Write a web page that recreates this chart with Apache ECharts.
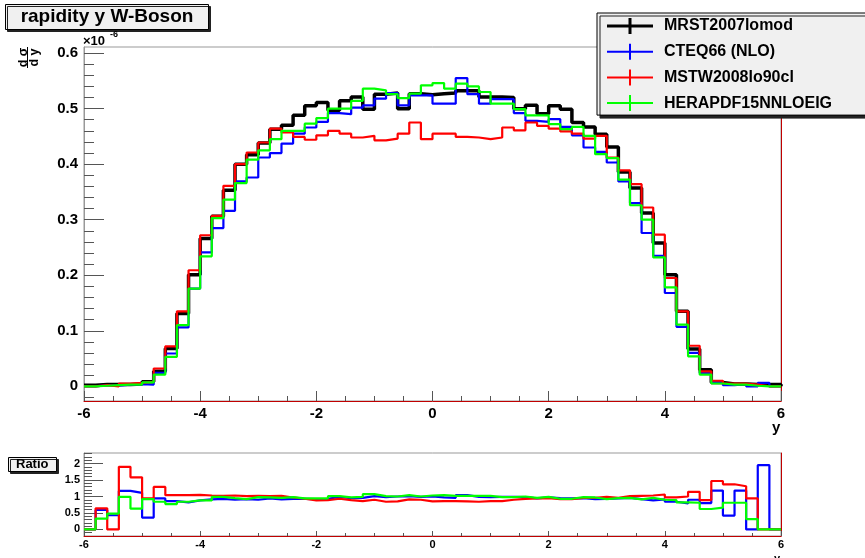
<!DOCTYPE html>
<html>
<head>
<meta charset="utf-8">
<title>rapidity y W-Boson</title>
<script src="https://cdn.jsdelivr.net/npm/echarts@6/dist/echarts.min.js"></script>
<style>
html, body { margin: 0; padding: 0; background: #fff; }
#main { width: 865px; height: 558px; }
</style>
</head>
<body>
<div id="main"></div>
<script>
// 60 bins of width 0.2 between -6 and 6
var xMin = -6, xMax = 6, binWidth = 0.2, nBins = 60;
var binEdges = [];
for (var i = 0; i < nBins; i++) binEdges.push(+(xMin + i * binWidth).toFixed(1));

// d sigma / dy, in units of 1e-6
var mrst = [0.002,0.003,0.003,0.003,0.004,0.008,0.027,0.068,0.131,0.201,
            0.266,0.306,0.353,0.400,0.417,0.438,0.463,0.470,0.488,0.505,
            0.511,0.497,0.514,0.521,0.499,0.526,0.528,0.500,0.527,0.525,
            0.527,0.528,0.532,0.532,0.521,0.521,0.520,0.500,0.506,0.491,
            0.505,0.499,0.475,0.467,0.454,0.431,0.386,0.357,0.312,0.258,
            0.201,0.135,0.067,0.030,0.007,0.004,0.004,0.003,0.003,0.003];
var cteq = [0.000,0.002,0.001,0.003,0.004,0.003,0.024,0.059,0.106,0.176,
            0.241,0.285,0.316,0.369,0.376,0.412,0.420,0.437,0.455,0.466,
            0.476,0.492,0.490,0.502,0.506,0.518,0.528,0.506,0.524,0.524,
            0.509,0.509,0.555,0.526,0.509,0.517,0.517,0.492,0.478,0.476,
            0.481,0.467,0.452,0.430,0.422,0.403,0.369,0.330,0.276,0.235,
            0.168,0.107,0.060,0.024,0.008,0.002,0.004,0.000,0.006,0.000];
var mstw = [0.000,0.002,0.000,0.005,0.006,0.008,0.032,0.072,0.135,0.209,
            0.272,0.307,0.361,0.400,0.421,0.439,0.464,0.457,0.449,0.444,
            0.452,0.460,0.455,0.448,0.451,0.443,0.446,0.455,0.475,0.445,
            0.455,0.455,0.449,0.448,0.445,0.448,0.466,0.461,0.475,0.469,
            0.464,0.459,0.455,0.446,0.451,0.412,0.389,0.364,0.322,0.273,
            0.195,0.135,0.073,0.027,0.010,0.005,0.005,0.003,0.000,0.000];
var hera = [0.000,0.001,0.002,0.003,0.003,0.007,0.021,0.053,0.110,0.176,
            0.234,0.303,0.336,0.366,0.408,0.425,0.445,0.460,0.460,0.473,
            0.483,0.500,0.500,0.514,0.536,0.533,0.526,0.519,0.527,0.542,
            0.546,0.536,0.545,0.540,0.530,0.509,0.509,0.499,0.488,0.488,
            0.472,0.463,0.467,0.451,0.418,0.411,0.372,0.326,0.300,0.232,
            0.178,0.111,0.054,0.021,0.005,0.003,0.003,0.001,0.000,0.000];

// ratio to MRST2007lomod
var cteqRatio = [0,0.59,0.43,1.17,1.11,0.36,0.94,0.86,0.82,0.88,
                 0.91,0.93,0.90,0.92,0.90,0.94,0.91,0.93,0.93,0.92,
                 0.93,0.99,0.95,0.96,1.01,0.98,1.00,1.01,0.99,1.00,
                 0.97,0.96,1.04,0.99,0.98,0.99,0.99,0.98,0.94,0.97,
                 0.95,0.94,0.95,0.92,0.93,0.94,0.96,0.92,0.88,0.91,
                 0.84,0.79,0.90,0.80,1.18,0.42,1.18,0,1.95,0];
var mstwRatio = [0,0.64,0,1.90,1.58,0.94,1.29,1.04,1.04,1.05,
                 1.03,1.02,1.03,1.01,1.02,1.01,1.02,0.97,0.93,0.88,
                 0.89,0.93,0.89,0.86,0.90,0.84,0.85,0.91,0.90,0.85,
                 0.86,0.86,0.85,0.84,0.86,0.86,0.90,0.93,0.94,0.95,
                 0.92,0.92,0.96,0.96,0.99,0.96,1.01,1.02,1.03,1.06,
                 0.97,1.00,1.14,0.89,1.47,1.37,1.31,0.94,0,0];
var heraRatio = [0,0.33,0.48,0.99,0.63,0.92,0.84,0.77,0.84,0.88,
                 0.88,0.99,0.95,0.92,0.98,0.97,0.96,0.98,0.94,0.94,
                 0.945,1.01,0.97,0.99,1.07,1.01,1.00,1.04,1.00,1.03,
                 1.04,1.02,1.02,1.02,1.02,0.98,0.98,1.00,0.96,0.99,
                 0.93,0.93,0.98,0.97,0.92,0.95,0.96,0.91,0.96,0.90,
                 0.89,0.82,0.81,0.62,0.66,0.81,0.81,0.31,0,0];

var yTicks = [0, 0.1, 0.2, 0.3, 0.4, 0.5, 0.6];
var yMinorTicks = [-0.02,0.02,0.04,0.06,0.08,0.12,0.14,0.16,0.18,0.22,0.24,0.26,0.28,
                   0.32,0.34,0.36,0.38,0.42,0.44,0.46,0.48,0.52,0.54,0.56,0.58];
var ratioTicks = [0, 0.5, 1, 1.5, 2];
var ratioMinorTicks = [-0.1,0.1,0.2,0.3,0.4,0.6,0.7,0.8,0.9,1.1,1.2,1.3,1.4,
                       1.6,1.7,1.8,1.9,2.1,2.2,2.3];

var names = ['MRST2007lomod', 'CTEQ66 (NLO)', 'MSTW2008lo90cl', 'HERAPDF15NNLOEIG'];
var colors = ['#000000', '#0000ff', '#ff0000', '#00ff00'];

function steps(vals) {
    var d = binEdges.map(function (x, i) { return [x, vals[i]]; });
    d.push([xMax, 0]);
    return d;
}

var font = 'Liberation Sans';
var frameRed = '#c00000';
var tickColor = '#555';

function histo(name, vals, color, width, axis) {
    return {
        name: name, type: 'line', step: 'end', symbol: 'none',
        xAxisIndex: axis[0], yAxisIndex: axis[1],
        data: steps(vals),
        itemStyle: { color: color },
        lineStyle: { color: color, width: width },
        emphasis: { disabled: true }
    };
}

var crossThick = 'path://M0,6.5 H21.5 V0 H24.5 V6.5 H46 V9.5 H24.5 V16 H21.5 V9.5 H0 Z';
var crossThin = 'path://M0,7 H22 V0 H24 V7 H46 V9 H24 V16 H22 V9 H0 Z';

var myChart = echarts.init(document.getElementById('main'), null, { renderer: 'canvas' });
var option = {
    animation: false,
    backgroundColor: '#fff',
    title: [{
        text: 'Ratio', left: 8, top: 457,
        padding: [1, 8, 1, 8],
        backgroundColor: '#f0f0f0', borderColor: '#000', borderWidth: 1,
        shadowColor: '#222', shadowOffsetX: 2, shadowOffsetY: 2,
        textStyle: { fontFamily: font, fontWeight: 'bold', fontSize: 13, color: '#000' }
    }],
    legend: {
        orient: 'vertical', left: 597, top: 13,
        padding: [5, 300, 4, 10], itemGap: 9.7,
        itemWidth: 46, itemHeight: 16,
        selectedMode: false,
        backgroundColor: '#f0f0f0', borderColor: '#000', borderWidth: 1,
        shadowColor: '#222', shadowOffsetX: 3, shadowOffsetY: 3,
        textStyle: { fontFamily: font, fontWeight: 'bold', fontSize: 16, color: '#000', padding: [0, 0, 0, 6] },
        data: [
            { name: names[0], icon: crossThick },
            { name: names[1], icon: crossThin },
            { name: names[2], icon: crossThin },
            { name: names[3], icon: crossThin }
        ]
    },
    grid: [
        { left: 84, right: 84, top: 47, height: 354, outerBoundsMode: 'none', show: true, borderColor: '#999', borderWidth: 1, backgroundColor: 'transparent' },
        { left: 84, right: 84, top: 453, height: 83, outerBoundsMode: 'none', show: true, borderColor: '#999', borderWidth: 1, backgroundColor: 'transparent' }
    ],
    xAxis: [{
        gridIndex: 0, type: 'value', position: 'bottom', min: xMin, max: xMax, interval: 2,
        name: 'y', nameLocation: 'end', nameGap: -9, nameMoveOverlap: false,
        nameTextStyle: { fontFamily: font, fontWeight: 'bold', fontSize: 15, color: '#000', align: 'left', verticalAlign: 'top', padding: [19, 0, 0, 0] },
        axisLine: { onZero: false, lineStyle: { color: frameRed, width: 1 } },
        axisTick: { inside: true, length: 10, lineStyle: { color: tickColor } },
        minorTick: { show: true, splitNumber: 4, length: 5, lineStyle: { color: tickColor } },
        axisLabel: { margin: 5, fontFamily: font, fontWeight: 'bold', fontSize: 15, color: '#000' },
        splitLine: { show: false }
    }, {
        gridIndex: 1, type: 'value', position: 'bottom', min: xMin, max: xMax, interval: 2,
        name: 'y', nameLocation: 'end', nameGap: -7, nameMoveOverlap: false,
        nameTextStyle: { fontFamily: font, fontWeight: 'bold', fontSize: 11, color: '#000', align: 'left', verticalAlign: 'top', padding: [17, 0, 0, 0] },
        axisLine: { onZero: false, lineStyle: { color: frameRed, width: 1 } },
        axisTick: { inside: true, length: 5, lineStyle: { color: tickColor } },
        minorTick: { show: true, splitNumber: 4, length: 3, lineStyle: { color: tickColor } },
        axisLabel: { margin: 3, fontFamily: font, fontWeight: 'bold', fontSize: 11, color: '#000' },
        splitLine: { show: false }
    }],
    yAxis: [{
        gridIndex: 0, type: 'value', position: 'left', min: -0.0265, max: 0.611,
        axisLine: { show: true, onZero: false, lineStyle: { color: '#999' } },
        axisTick: { inside: true, length: 20, customValues: yTicks, lineStyle: { color: tickColor } },
        axisLabel: { customValues: yTicks, margin: 6, fontFamily: font, fontWeight: 'bold', fontSize: 15, color: '#000' },
        splitLine: { show: false }
    }, {
        gridIndex: 0, type: 'value', position: 'left', min: -0.0265, max: 0.611,
        axisLine: { show: false, onZero: false },
        axisTick: { inside: true, length: 10, customValues: yMinorTicks, lineStyle: { color: tickColor } },
        axisLabel: { show: false },
        splitLine: { show: false }
    }, {
        gridIndex: 0, type: 'value', position: 'right', min: -0.0265, max: 0.611,
        axisLine: { show: true, onZero: false, lineStyle: { color: frameRed } },
        axisTick: { show: false }, axisLabel: { show: false }, splitLine: { show: false }
    }, {
        gridIndex: 1, type: 'value', position: 'left', min: -0.2, max: 2.32,
        axisLine: { show: true, onZero: false, lineStyle: { color: '#999' } },
        axisTick: { inside: true, length: 19, customValues: ratioTicks, lineStyle: { color: tickColor } },
        axisLabel: { customValues: ratioTicks, margin: 4, fontFamily: font, fontWeight: 'bold', fontSize: 11, color: '#000' },
        splitLine: { show: false }
    }, {
        gridIndex: 1, type: 'value', position: 'left', min: -0.2, max: 2.32,
        axisLine: { show: false, onZero: false },
        axisTick: { inside: true, length: 8, customValues: ratioMinorTicks, lineStyle: { color: tickColor } },
        axisLabel: { show: false },
        splitLine: { show: false }
    }, {
        gridIndex: 1, type: 'value', position: 'right', min: -0.2, max: 2.32,
        axisLine: { show: true, onZero: false, lineStyle: { color: frameRed } },
        axisTick: { show: false }, axisLabel: { show: false }, splitLine: { show: false }
    }],
    graphic: [{
        // title box
        type: 'group', x: 5.5, y: 4.5,
        children: [
            { type: 'rect', shape: { x: 0, y: 0, width: 203, height: 25 },
              style: { fill: '#f0f0f0', stroke: '#000', lineWidth: 1, shadowColor: '#222', shadowOffsetX: 2, shadowOffsetY: 2 } },
            { type: 'text', x: 101.5, y: 12.5,
              style: { text: 'rapidity y W-Boson', font: 'bold 19px ' + font, fill: '#000', align: 'center', verticalAlign: 'middle' } }
        ]
    }, {
        // y axis title d sigma / d y, rotated
        type: 'group', x: 27.5, y: 57.5, rotation: Math.PI / 2,
        children: [
            { type: 'text', x: 0, y: -10, style: { text: 'd σ', font: 'bold 12.5px ' + font, fill: '#000', align: 'center', verticalAlign: 'top' } },
            { type: 'line', shape: { x1: -10.5, y1: 0, x2: 10.5, y2: 0 }, style: { stroke: '#000', lineWidth: 1 } },
            { type: 'text', x: 0, y: 0.3, style: { text: 'd y', font: 'bold 12.5px ' + font, fill: '#000', align: 'center', verticalAlign: 'top' } }
        ]
    }, {
        type: 'text', x: 83, y: 35, style: { text: '×10', font: 'bold 13px ' + font, fill: '#000' }
    }, {
        type: 'text', x: 110, y: 30, style: { text: '-6', font: 'bold 9px ' + font, fill: '#000' }
    }],
    series: [
        histo(names[0], mrst, colors[0], 3.5, [0, 0]),
        histo(names[1], cteq, colors[1], 2.2, [0, 0]),
        histo(names[2], mstw, colors[2], 2.2, [0, 0]),
        histo(names[3], hera, colors[3], 2.2, [0, 0]),
        histo('CTEQ66 / MRST', cteqRatio, colors[1], 2.2, [1, 3]),
        histo('MSTW / MRST', mstwRatio, colors[2], 2.2, [1, 3]),
        histo('HERAPDF / MRST', heraRatio, colors[3], 2.2, [1, 3])
    ]
};
myChart.setOption(option);
</script>
</body>
</html>
